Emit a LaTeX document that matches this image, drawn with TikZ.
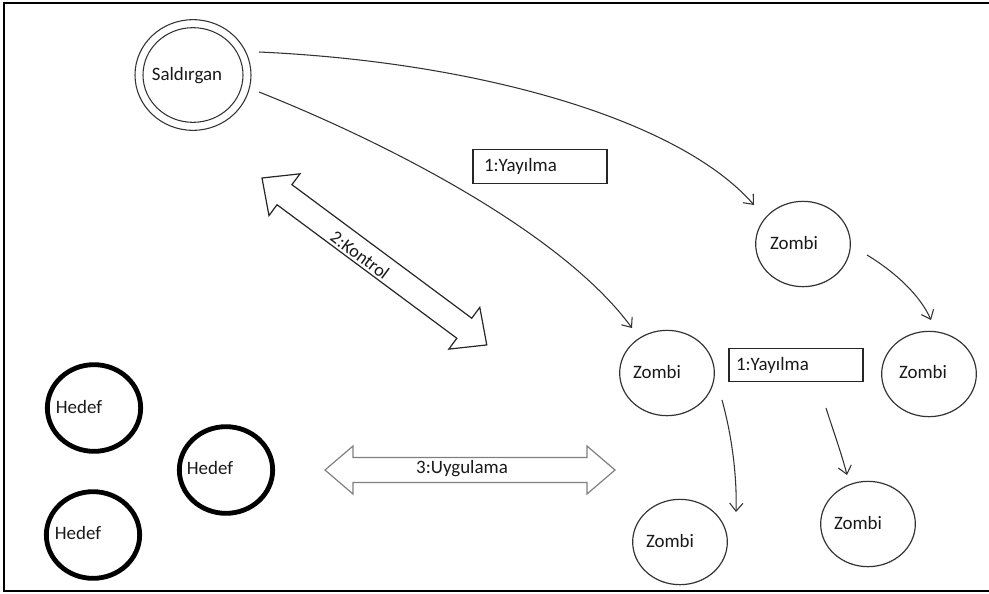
\documentclass[tikz,border=0pt]{standalone}
\usepackage{fontspec}
\setmainfont{Carlito}
\usetikzlibrary{arrows.meta,shapes.geometric}

\tikzset{
  every node/.style={font=\fontsize{14.2pt}{17pt}\selectfont, text=black!90},
  ring/.style={ellipse, draw=black!80, line width=0.8pt, inner sep=0pt},
  zombi/.style={ring, line width=0.9pt, minimum width=71pt, minimum height=64pt},
  hedef/.style={ellipse, draw=black, line width=3.6pt, minimum width=70pt, minimum height=65pt, inner sep=0pt},
  caption/.style={inner sep=0pt},
  label box/.style={rectangle, draw=black!85, line width=0.9pt, minimum width=100.5pt, minimum height=25pt,
                    text width=84pt, align=left, inner xsep=8pt, inner ysep=0pt},
  spread/.style={draw=black!80, line width=0.8pt, -{Straight Barb[length=6pt,width=10pt]}},
  block arrow/.style={draw=black!85, line width=0.9pt, line join=miter, fill=white},
}

\begin{document}
\begin{tikzpicture}[x=0.75pt, y=-0.75pt]
  \useasboundingbox (0,0) rectangle (989,593);

  % frame
  \draw[line width=1.6pt] (989,3) -- (4,3) -- (4,591) -- (989,591);

  % attacker: two concentric rings
  \node[ring, minimum width=87pt, minimum height=83pt] (sal) at (193,75) {};
  \node[ring, minimum width=75pt, minimum height=71pt] (salin) at (193,75) {};
  \node[caption] (saltxt) at (187,76) {Saldırgan};

  % zombies
  \node[zombi] (z1) at (803,244) {};
  \node[zombi] (z2) at (667,373) {};
  \node[zombi] (z3) at (929,374) {};
  \node[zombi] (z4) at (680,542) {};
  \node[zombi] (z5) at (868,524) {};
  \node[caption] (z1t) at (794,243) {Zombi};
  \node[caption] (z2t) at (657,372) {Zombi};
  \node[caption] (z3t) at (923,372) {Zombi};
  \node[caption] (z4t) at (670,541) {Zombi};
  \node[caption] (z5t) at (858,523) {Zombi};

  % targets
  \node[hedef] (h1) at (94,408) {};
  \node[hedef] (h2) at (226,470) {};
  \node[hedef] (h3) at (93,535) {};
  \node[caption] (h1t) at (79,407) {Hedef};
  \node[caption] (h2t) at (210,468) {Hedef};
  \node[caption] (h3t) at (78,533) {Hedef};

  % labels
  \node[label box] (y1) at (540,166.5) {1:Yayılma};
  \node[label box, inner xsep=5pt, text width=90pt] (y2) at (796,365) {1:Yayılma};

  % spreading connectors
  \draw[spread] ([shift={(66,-23)}]sal.center) .. controls (480,62) and (680,120) .. ([shift={(-49,-39)}]z1.center);
  \draw[spread] ([shift={(66,17)}]sal.center) .. controls (380,140) and (560,230) .. ([shift={(-35,-45)}]z2.center);
  \draw[spread] ([shift={(64,11)}]z1.center) .. controls (895,272) and (920,295) .. ([shift={(2,-54)}]z3.center);
  \draw[spread] ([shift={(55,27)}]z2.center) .. controls (733,440) and (737,480) .. ([shift={(56,-30)}]z4.center);
  \draw[spread] ([shift={(30,43)}]y2.center) .. controls (833,430) and (842,455) .. ([shift={(-21,-49)}]z5.center);

  % control link
  \begin{scope}[shift={(262,178)}, rotate=-36.6]
    \draw[block arrow] (0,0) -- (28,26) -- (28,12.5) -- (252,12.5) -- (252,26) -- (280,0)
      -- (252,-26) -- (252,-12.5) -- (28,-12.5) -- (28,-26) -- cycle;
  \end{scope}
  \node[caption, rotate=-36.6, font=\fontsize{13.6pt}{16pt}\selectfont] (kontrol) at (360,255) {2:Kontrol};

  % attack link
  \begin{scope}[shift={(325,470)}]
    \draw[block arrow, draw=black!50] (0,0) -- (28,-24) -- (28,-12.5) -- (262,-12.5) -- (262,-24) -- (290,0)
      -- (262,24) -- (262,12.5) -- (28,12.5) -- (28,24) -- cycle;
  \end{scope}
  \node[caption] (uyg) at (462,469) {3:Uygulama};
\end{tikzpicture}
\end{document}
